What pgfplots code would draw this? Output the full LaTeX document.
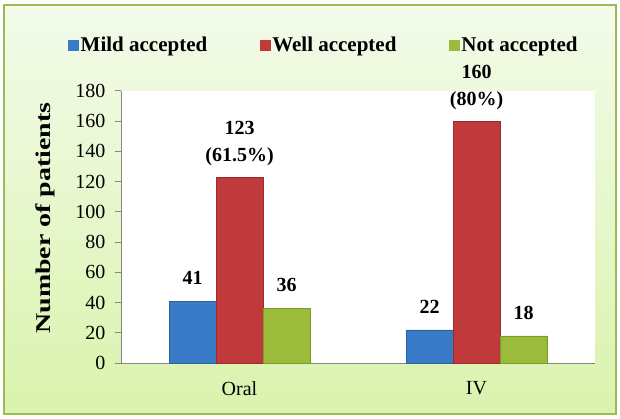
\documentclass[border=0pt]{standalone}
\usepackage{pgfplots}
\pgfplotsset{compat=1.18}
\usepackage{fontspec}
\setmainfont{Liberation Serif}
\definecolor{frameC}{HTML}{9BBB59}
\definecolor{bgTop}{HTML}{F3FBEA}
\definecolor{bgBot}{HTML}{DAF3AD}
\definecolor{axC}{HTML}{868686}
\definecolor{blueC}{HTML}{3A7BC8}
\definecolor{blueD}{HTML}{2C619F}
\definecolor{redC}{HTML}{C0393B}
\definecolor{redD}{HTML}{9A2A2B}
\definecolor{greenC}{HTML}{9BBB3B}
\definecolor{greenD}{HTML}{7A9A2A}
\begin{document}
\begin{tikzpicture}
\useasboundingbox (0,0) rectangle (620pt,418pt);
\draw[frameC, line width=2.5pt, top color=bgTop, bottom color=bgBot] (4pt,4pt) rectangle (616pt,413pt);
\begin{axis}[
  at={(121pt,55pt)}, anchor=south west,
  scale only axis, width=474pt, height=272pt,
  ybar=0pt, bar width=47pt,
  xmin=-0.5, xmax=1.5, ymin=0, ymax=180,
  xtick={0,1}, xticklabels={Oral,IV},
  ytick={0,20,...,180},
  axis lines*=left,
  axis line style={axC, line width=1pt, -},
  axis background/.style={fill=white},
  major x tick style={draw=none},
  major y tick style={axC, line width=1pt},
  tick align=outside, major tick length=6pt,
  /pgf/number format/assume math mode=true,
  tick label style={font=\fontsize{20}{24}\selectfont},
  yticklabel style={xshift=-6pt},
  xticklabel style={yshift=-9pt},
  ylabel={\scalebox{1.33}[1]{Number of patients}},
  every axis y label/.style={at={(axis description cs:-0.160,0.533)}, rotate=90, anchor=center, font=\fontsize{21}{24}\selectfont\bfseries},
  legend columns=3,
  legend style={at={(axis description cs:-0.1118,1.169)}, anchor=west, draw=none, fill=none, inner sep=0pt,
    font=\fontsize{21}{24}\selectfont\bfseries,
    nodes={inner xsep=1.5pt, inner ysep=0pt},
    /tikz/every even column/.append style={column sep=51pt}},
  legend image code/.code={\fill[#1, draw=none] (0pt,-5.5pt) rectangle (11pt,5.5pt);},
  point meta=explicit symbolic,
  nodes near coords,
  nodes near coords style={font=\fontsize{20}{27}\selectfont\bfseries, align=center, yshift=13pt, black},
  clip=false,
]
\addplot[fill=blueC, draw=blueD] coordinates {(0,41) [41] (1,22) [22]};
\addplot[fill=redC, draw=redD, nodes near coords style={yshift=-5pt}] coordinates {(0,123) [{123\\(61.5\%)}] (1,160) [{160\\(80\%)}]};
\addplot[fill=greenC, draw=greenD] coordinates {(0,36) [36] (1,18) [18]};
\legend{Mild accepted, Well accepted, Not accepted}
\end{axis}
\end{tikzpicture}
\end{document}
